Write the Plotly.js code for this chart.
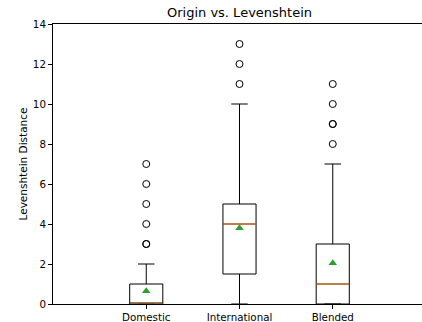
<!DOCTYPE html>
<html>
<head>
<meta charset="utf-8">
<script src="https://cdn.plot.ly/plotly-3.0.1.min.js"></script>
<style>
html, body { margin: 0; padding: 0; overflow: hidden; background: #fff; }
#chart { width: 426px; height: 322px; }
</style>
</head>
<body>
<div id="chart"></div>
<script>
// ---- data ----
const categories = ['Domestic', 'International', 'Blended'];
const positions = [1, 2, 3];
const q1 = [0, 1.5, 0];
const medians = [0, 4, 1];
const q3 = [1, 5, 3];
const lowerWhisker = [0, 0, 0];
const upperWhisker = [2, 10, 7];
const means = [0.65, 3.8, 2.05];
const outliersDomestic = [3, 3, 4, 5, 6, 7];
const outliersInternational = [11, 12, 13];
const outliersBlended = [8, 9, 9, 10, 11];
const yTicks = [0, 2, 4, 6, 8, 10, 12, 14];

// ---- build traces ----
const boxWidth = 0.355;
const outlierGroups = [outliersDomestic, outliersInternational, outliersBlended];

const boxTrace = {
  type: 'box',
  x: positions,
  q1: q1,
  median: medians,
  q3: q3,
  lowerfence: lowerWhisker,
  upperfence: upperWhisker,
  width: boxWidth,
  whiskerwidth: 0.5,
  line: { color: '#000', width: 1 },
  fillcolor: 'rgba(0,0,0,0)',
  boxpoints: false,
  hoverinfo: 'skip',
  showlegend: false
};

const medX = [], medY = [];
positions.forEach((p, i) => {
  medX.push(p - boxWidth / 2, p + boxWidth / 2, null);
  medY.push(medians[i], medians[i], null);
});
const medianTrace = {
  type: 'scatter', mode: 'lines', x: medX, y: medY,
  line: { color: '#ff7f0e', width: 1 }, hoverinfo: 'skip', showlegend: false
};

const ox = [], oy = [];
outlierGroups.forEach((g, i) => g.forEach(v => { ox.push(positions[i]); oy.push(v); }));
const outlierTrace = {
  type: 'scatter', mode: 'markers', x: ox, y: oy,
  marker: { symbol: 'circle-open', size: 7, color: '#000', line: { width: 1, color: '#000' } },
  hoverinfo: 'skip', showlegend: false
};

const meanTrace = {
  type: 'scatter', mode: 'markers', x: positions, y: means,
  marker: { symbol: 'triangle-up', size: 7.5, color: '#2ca02c' },
  hoverinfo: 'skip', showlegend: false
};

const layout = {
  width: 426, height: 322,
  margin: { l: 53, r: 0, t: 24, b: 18 },
  paper_bgcolor: '#fff', plot_bgcolor: '#fff',
  font: { family: 'DejaVu Sans, sans-serif', size: 10.3, color: '#000' },
  title: { text: 'Origin vs. Levenshtein', font: { size: 13, color: '#000' },
           x: 0.5, xref: 'paper', y: 0.96, yref: 'container', yanchor: 'middle' },
  xaxis: {
    range: [0, 4], tickvals: positions, ticktext: categories,
    showgrid: false, zeroline: false, showline: true, mirror: true,
    linecolor: '#000', linewidth: 1, ticks: 'outside', ticklen: 4, tickcolor: '#000',
    fixedrange: true
  },
  yaxis: {
    range: [0, 14], tickvals: yTicks,
    showgrid: false, zeroline: false, showline: true, mirror: false,
    linecolor: '#000', linewidth: 1, ticks: 'outside', ticklen: 4, tickcolor: '#000',
    title: { text: 'Levenshtein Distance', font: { size: 10.5 }, standoff: 3 },
    fixedrange: true
  }
};

Plotly.newPlot('chart', [boxTrace, medianTrace, outlierTrace, meanTrace], layout,
  { displayModeBar: false, staticPlot: true });
</script>
</body>
</html>
